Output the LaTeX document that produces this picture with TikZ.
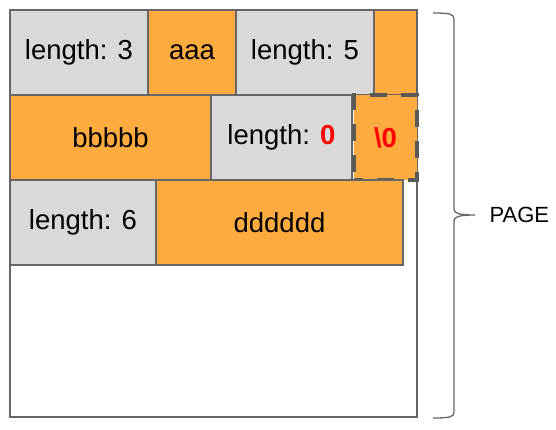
\documentclass[tikz,border=0pt]{standalone}
\usepackage{fontspec}
\setmainfont{Liberation Sans}
\usepackage{xcolor}
\usetikzlibrary{positioning}
\definecolor{cellgray}{HTML}{D9D9D9}
\definecolor{cellorange}{HTML}{FFAB40}
\definecolor{linegray}{HTML}{666666}
\definecolor{dashgray}{HTML}{595959}
\definecolor{numred}{HTML}{FF0000}
\tikzset{cell/.style = {draw=linegray, line width=1.3pt, minimum height=85pt,
                        inner sep=0pt, outer sep=0pt, font=\fontsize{27.5}{33}\selectfont},
         len/.style = {cell, fill=cellgray},
         dat/.style = {cell, fill=cellorange},
         nulcell/.style = {dat, draw=dashgray, line width=4.5pt,
                           dash pattern=on 17pt off 14pt, dash phase=8pt}}
\newcommand{\rednum}[1]{\textcolor{numred}{\textbf{#1}}}

\begin{document}
\begin{tikzpicture}[x=1pt, y=-1pt]
		\useasboundingbox (0,0) rectangle (556,429);
		
		\node[draw=linegray, line width=1.3pt, minimum width=407pt, minimum height=407pt,
		      inner sep=0pt, outer sep=0pt, anchor=north west] (page) at (10,10) {};
		
		\node[len, minimum width=138pt, anchor=north west] (len3) at (10,10) {length: 3};
		\node[dat, minimum width=88pt, right=0pt of len3] (aaa) {aaa};
		\node[len, minimum width=138pt, right=0pt of aaa] (len5) {length: 5};
		\node[dat, minimum width=43pt, right=0pt of len5] (rest) {};
		
		\node[dat, minimum width=201pt, anchor=north west] (bbb) at (len3.south west) {bbbbb};
		\node[len, minimum width=141pt, right=0pt of bbb] (len0) {length: \rednum{0}};
		\node[nulcell, minimum width=63pt, right=2pt of len0] (nul) {\rednum{\textbackslash0}};
		
		\node[len, minimum width=146pt, anchor=north west] (len6) at (bbb.south west) {length: 6};
		\node[dat, minimum width=247pt, right=0pt of len6] (ddd) {dddddd};
		
		\coordinate (top) at (433,13);
		\coordinate (tip) at (475,215);
		\coordinate (bot) at (433,418);
		\draw[linegray, line width=1.3pt]
		(top) .. controls (450,13) and (454,14) .. (454,19) -- (454,209)
		.. controls (454,213) and (458,215) .. (tip)
		.. controls (458,215) and (454,217) .. (454,221) -- (454,412)
		.. controls (454,417) and (450,418) .. (bot);
		\node[anchor=west, font=\fontsize{22}{26}\selectfont] (lbl) at (486,215) {PAGE};
		\end{tikzpicture}
\end{document}
